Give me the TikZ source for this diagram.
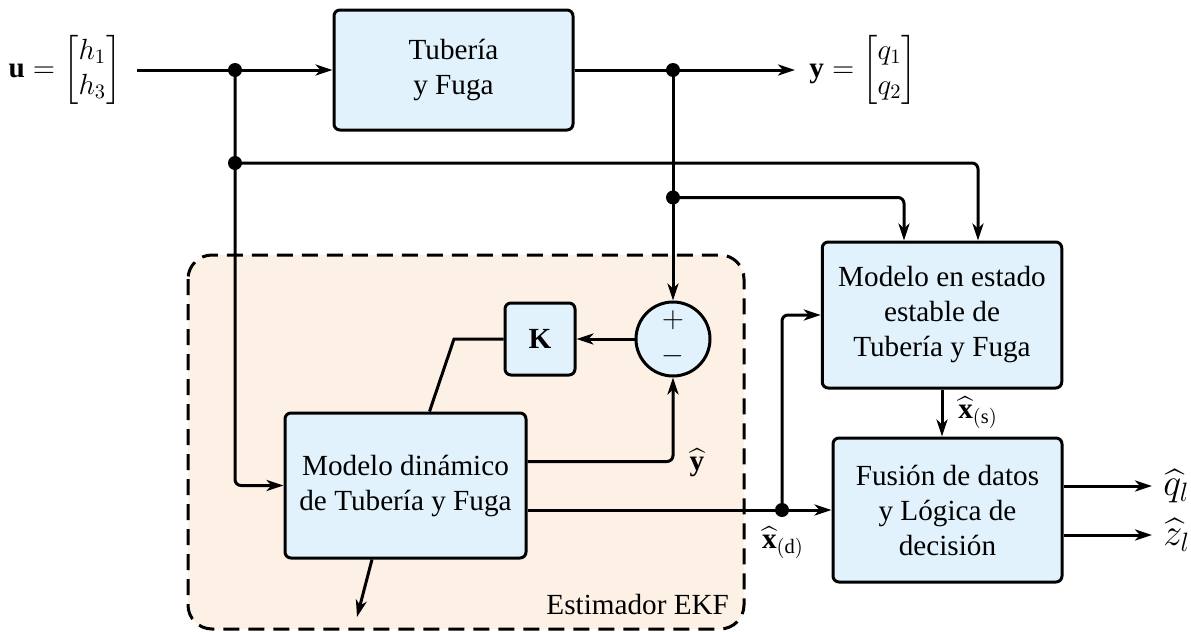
\RequirePackage{fix-cm}
\documentclass[tikz,border=0pt]{standalone}
\usepackage{amsmath}
\usepackage{fontspec}
\setmainfont{Liberation Serif}
\usetikzlibrary{arrows.meta}

\definecolor{blockfill}{HTML}{E1F2FC}
\definecolor{ekffill}{HTML}{FDF1E6}

\begin{document}
\begin{tikzpicture}[x=0.5pt, y=-0.5pt, font=\fontsize{14.6}{17.5}\selectfont,
  block/.style={draw, fill=blockfill, line width=1.5pt, rounded corners=3pt, align=center, inner sep=0pt},
  sumnode/.style={draw, circle, fill=blockfill, line width=1.5pt, minimum size=37pt, inner sep=0pt},
  junction/.style={circle, fill, inner sep=0pt, minimum size=7pt},
  conn/.style={line width=1.5pt, rounded corners=3pt, -{Stealth[length=8.5pt, width=5.5pt, inset=2.5pt]}},
  plain/.style={line width=1.5pt},
  outlab/.style={anchor=west, inner sep=0pt, font=\fontsize{19}{22}\selectfont}]

\useasboundingbox (0,0) rectangle (1191,632);

% EKF estimator frame
\draw[fill=ekffill, line width=1.5pt, dash pattern=on 8pt off 4.5pt, rounded corners=12pt]
  (188,255) rectangle (744,629);
\node[anchor=base east] (ekf) at (736,614) {Estimador EKF};

% blocks
\node[block, minimum width=119.5pt, minimum height=60pt] (plant) at (453.5,70) {Tubería\\y Fuga};
\node[block, minimum width=35pt, minimum height=36pt] (gain) at (540,339) {$\mathbf{K}$};
\node[sumnode] (sum) at (673,339) {};
\node (plus) at (673,320) {$+$};
\node (minus) at (673,356) {$-$};
\node[block, minimum width=120.5pt, minimum height=72.5pt] (dyn) at (405.5,485.5) {Modelo dinámico\\de Tubería y Fuga};
\node[block, minimum width=119.75pt, minimum height=73pt] (stat) at (942,315) {Modelo en estado\\estable de\\Tubería y Fuga};
\node[block, minimum width=114.5pt, minimum height=72pt] (fus) at (947.5,510) {Fusión de datos\\y Lógica de\\decisión};

% signals
\node (ulab) at (65,70) {$\mathbf{u}=\begin{bmatrix} h_1\\ h_3 \end{bmatrix}$};
\node[anchor=west, inner sep=0pt] (ylab) at (809,70) {$\mathbf{y}=\begin{bmatrix} q_1\\ q_2 \end{bmatrix}$};
\node (yhat) at (697,463) {$\widehat{\mathbf{y}}$};
\node (xd) at (783,543) {$\widehat{\mathbf{x}}_{(\mathrm{d})}$};
\node (xs) at (978,413) {$\widehat{\mathbf{x}}_{(\mathrm{s})}$};
\node[outlab] (qhat) at (1163,486) {$\widehat{q}_l$};
\node[outlab] (zhat) at (1163,535) {$\widehat{z}_l$};

\coordinate (uin) at (137,70);
\coordinate (kbend) at (454,339);
\coordinate (pout) at (357,617);

\node[junction] (j1) at (235,70) {};
\node[junction] (j2) at (235,163) {};
\node[junction] (j3) at (673,70) {};
\node[junction] (j4) at (673,197.5) {};
\node[junction] (j5) at (782,510) {};

% connections
\draw[conn] (uin) -- (plant.west);
\draw[conn, shorten >=7pt] (plant.east) -- (ylab.west);
\draw[conn] (j1.center) |- (dyn.west);
\draw[conn] (j2.center) -| ([xshift=18pt]stat.north);
\draw[conn] (j4.center) -| ([xshift=-19pt]stat.north);
\draw[conn] (j3.center) -- (sum.north);
\draw[conn] (sum.west) -- (gain.east);
\draw[plain] (gain.west) -- (kbend) -- ([xshift=12pt]dyn.north);
\draw[conn] ([yshift=12pt]dyn.east) -| (sum.south);
\draw[conn] (dyn.east |- fus.west) -- (fus.west);
\draw[conn] (j5.center) |- (stat.west);
\draw[conn] (stat.south) -- (stat.south |- fus.north);
\draw[conn, shorten >=5.5pt] ([yshift=12pt]fus.east) -- (qhat.west);
\draw[conn, shorten >=5.5pt] ([yshift=-12.5pt]fus.east) -- (zhat.west);
\draw[conn] ([xshift=-16.75pt]dyn.south) -- (pout);

\end{tikzpicture}
\end{document}
